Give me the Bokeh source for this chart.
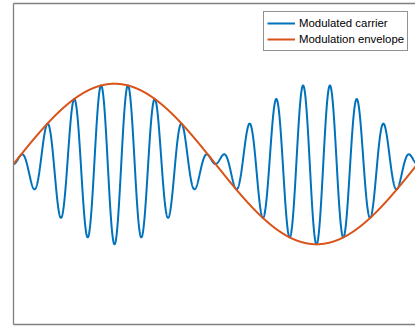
import numpy as np
from bokeh.plotting import figure
from bokeh.models import LinearAxis, FixedTicker, Range1d, Legend, LegendItem
from bokeh.embed import file_html
from bokeh.resources import INLINE

# Signal parameters: one envelope period across the time axis
mod_freq = 1.0        # envelope cycles per unit time
carrier_freq = 15.0   # carrier cycles per unit time
n_samples = 3000

t = np.linspace(0.0, 1.0, n_samples)
envelope = np.sin(2 * np.pi * mod_freq * t)
carrier = envelope * np.sin(2 * np.pi * carrier_freq * t)

series_names = ["Modulated carrier", "Modulation envelope"]
series_colors = ["#0072BD", "#D95319"]

p = figure(
    width=415, height=326,
    x_range=Range1d(0.0, 0.995), y_range=Range1d(-2.0, 2.0),
    output_backend="svg", toolbar_location=None,
    min_border_left=13, min_border_right=0,
    min_border_top=3, min_border_bottom=2,
)
p.add_layout(LinearAxis(), "above")

# Plain grey box edges without ticks or labels
for ax in p.axis:
    ax.ticker = FixedTicker(ticks=[])
    ax.major_tick_line_color = None
    ax.minor_tick_line_color = None
    ax.major_tick_out = 0
    ax.major_tick_in = 0
    ax.major_label_standoff = 0
    ax.major_label_text_font_size = "0px"
    ax.axis_line_color = "#808080"
    ax.axis_line_width = 1.3

p.grid.visible = False
p.outline_line_color = None
p.background_fill_color = "white"
p.border_fill_color = "white"

r_car = p.line(t, carrier, line_color=series_colors[0], line_width=2)
r_env = p.line(t, envelope, line_color=series_colors[1], line_width=2)

legend = Legend(
    items=[LegendItem(label=series_names[0], renderers=[r_car]),
           LegendItem(label=series_names[1], renderers=[r_env])],
    location=(250, 273),
    label_text_font="Liberation Sans",
    label_text_font_size="11.4px",
    label_text_color="#000000",
    glyph_width=28, glyph_height=16, label_height=16,
    label_standoff=4, spacing=0, padding=3, margin=0,
    border_line_color="#262626", border_line_width=1,
    background_fill_color="white", background_fill_alpha=1.0,
)
p.add_layout(legend, "center")

open("out.html", "w").write(file_html(p, INLINE))
